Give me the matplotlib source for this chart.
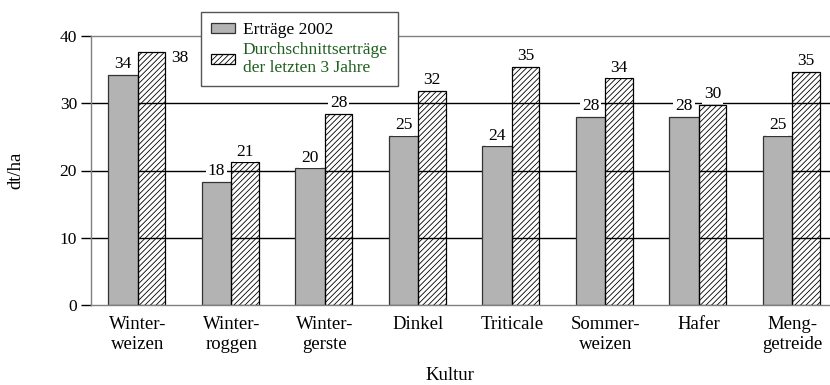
import numpy as np
import matplotlib.pyplot as plt
from matplotlib.patches import Patch

plt.rcParams['font.family'] = ['Liberation Serif', 'DejaVu Serif']
plt.rcParams['hatch.linewidth'] = 0.6

kulturen = ['Winter-\nweizen', 'Winter-\nroggen', 'Winter-\ngerste', 'Dinkel',
            'Triticale', 'Sommer-\nweizen', 'Hafer', 'Meng-\ngetreide']
ertrag_2002 = [34.2, 18.3, 20.3, 25.1, 23.6, 28.0, 28.0, 25.1]
ertrag_3j = [37.6, 21.2, 28.4, 31.8, 35.4, 33.7, 29.8, 34.7]

fs = 12.5
fs_cat = 13.5
fig = plt.figure(figsize=(8.3, 3.85), dpi=100)
ax = fig.add_axes([91 / 830, 80 / 385, 739 / 830, 269 / 385])

x = np.arange(len(kulturen))
w1, w2 = 0.315, 0.295
ax.bar(x - w1 / 2, ertrag_2002, w1, color='#b3b3b3', edgecolor='#333333',
       linewidth=0.9, zorder=2)
ax.bar(x + w2 / 2, ertrag_3j, w2, facecolor='none', edgecolor='black',
       hatch='//////', linewidth=0.9, zorder=2)

# gridlines 10..30 in black, top border grey
for v in (10, 20, 30):
    ax.axhline(v, color='black', linewidth=1.0, zorder=1)

ax.set_xlim(-0.5, -0.5 + 739 / 93.5)
ax.set_ylim(0, 40)
ax.set_yticks([0, 10, 20, 30, 40])
ax.set_xticks(x)
ax.set_xticklabels(kulturen, fontsize=fs_cat, linespacing=1.2)
ax.tick_params(axis='y', length=7, width=1.0, labelsize=fs, pad=3)
ax.tick_params(axis='x', length=0, pad=8)
for t in ax.yaxis.get_major_ticks():
    t.tick1line.set_color('black')
ax.yaxis.get_major_ticks()[0].tick1line.set_color('#808080')
ax.yaxis.get_major_ticks()[-1].tick1line.set_color('#808080')

for s in ('left', 'bottom', 'top'):
    ax.spines[s].set_color('#808080')
    ax.spines[s].set_linewidth(1.0)
ax.spines['right'].set_visible(False)

ax.set_ylabel('dt/ha', fontsize=fs_cat, va='center')
ax.yaxis.set_label_coords(-75 / 739, 0.5)
ax.set_xlabel('Kultur', fontsize=fs_cat, va='center')
ax.xaxis.set_label_coords(0.485, -71 / 269)

box = dict(facecolor='white', edgecolor='none', pad=1.5)
for i, v in enumerate(ertrag_2002):
    ax.annotate(f'{v:.0f}', (x[i] - w1 / 2, v), xytext=(0, 2),
                textcoords='offset points', ha='center', va='bottom',
                fontsize=fs, bbox=box, zorder=3)
for i, v in enumerate(ertrag_3j):
    if i == 0:
        ax.annotate(f'{v:.0f}', (x[i] + w2, v), xytext=(4, -4),
                    textcoords='offset points', ha='left', va='center',
                    fontsize=fs, bbox=box, zorder=3)
    else:
        ax.annotate(f'{v:.0f}', (x[i] + w2 / 2, v), xytext=(0, 2),
                    textcoords='offset points', ha='center', va='bottom',
                    fontsize=fs, bbox=box, zorder=3)

handles = [Patch(facecolor='#b3b3b3', edgecolor='#333333', linewidth=0.9),
           Patch(facecolor='white', edgecolor='black', hatch='//////', linewidth=0.9)]
leg = fig.legend(handles, ['Erträge 2002', 'Durchschnittserträge\nder letzten 3 Jahre'],
                 loc='upper left', bbox_to_anchor=(201 / 830, 1 - 12 / 385),
                 fontsize=fs, frameon=True, fancybox=False, framealpha=1,
                 edgecolor='#555555', handlelength=1.35, handleheight=0.5,
                 handletextpad=0.45, borderpad=0.6, labelspacing=0.2,
                 borderaxespad=0)
leg.get_frame().set_linewidth(1.0)
leg.get_texts()[1].set_color('#1f5f1f')
leg.get_texts()[1].set_linespacing(1.15)
leg.set_zorder(5)

fig.savefig('out.png', dpi=100)
